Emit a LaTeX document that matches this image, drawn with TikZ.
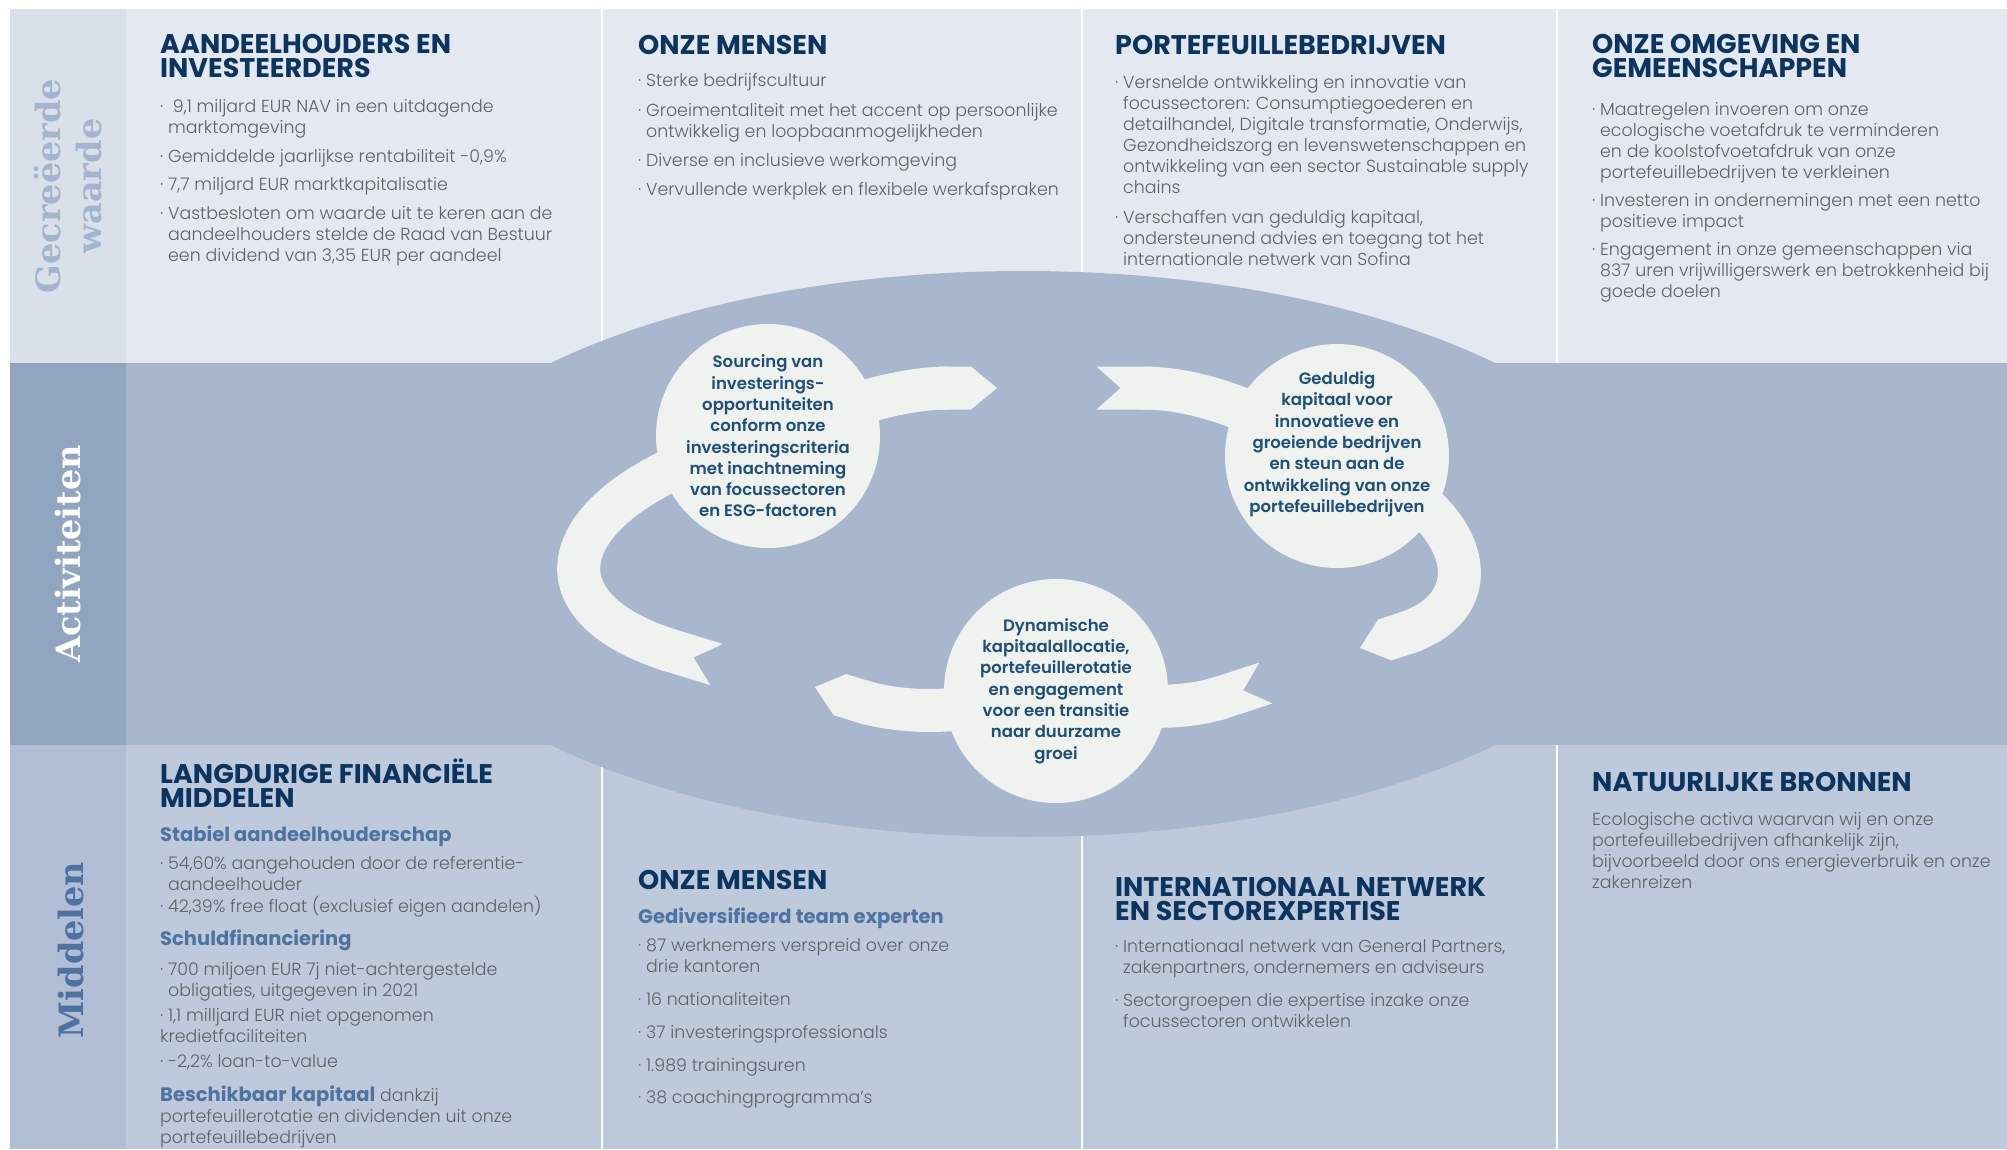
\documentclass[tikz,border=0pt]{standalone}
\usepackage{fontspec}
\setmainfont{Poppins}
\newfontfamily\lightfont{Poppins}[UprightFont=* Light,BoldFont=* Bold]
\newfontfamily\semifont{Poppins}[UprightFont=* SemiBold]
\newfontfamily\slabfont{DejaVu Serif}
\usetikzlibrary{arrows.meta,backgrounds}

\definecolor{bandtop}{HTML}{E4E8F1}
\definecolor{coltop}{HTML}{DAE0EA}
\definecolor{bandmid}{HTML}{A8B6CE}
\definecolor{colmid}{HTML}{91A5C0}
\definecolor{bandlow}{HTML}{BFC9DC}
\definecolor{collow}{HTML}{B1BED5}
\definecolor{paper}{HTML}{F0F2F0}
\definecolor{navy}{HTML}{0B3560}
\definecolor{subblue}{HTML}{4E73A0}
\definecolor{bodygrey}{HTML}{5E6166}
\definecolor{circtext}{HTML}{1D4F7A}
\definecolor{labellight}{HTML}{A3B4CE}
\definecolor{labelblue}{HTML}{4D71A0}

\newcommand\itm{·\ }
\newcommand\contline{\hphantom{·\ }}
\newcommand\subhd[1]{{\color{subblue}\bfseries\fontsize{19.5}{21}\selectfont #1}}

\begin{document}
\begin{tikzpicture}[x=1pt,y=1pt,
    % multi-line nodes sit on the baseline of their last line
    head/.style={anchor=base west,inner sep=0pt,align=left,text=navy,font=\fontsize{27}{24}\selectfont\bfseries},
    bodytext/.style={anchor=base west,inner sep=0pt,align=left,text=bodygrey,font=\lightfont\fontsize{17.4}{21}\selectfont},
    sidelabel/.style={rotate=90,inner sep=0pt,align=center,font=\slabfont\bfseries\fontsize{33.5}{41}\selectfont},
    stage/.style={circle,fill=paper,minimum size=224pt,inner sep=-20pt,align=center,text=circtext,font=\semifont\fontsize{16.5}{21.3}\selectfont},
    ribbonpath/.style={draw=paper,line width=43pt},
    pointed/.style={-{Triangle Cap[length=26pt]}},
    notched/.style={{Triangle Cap[reversed,length=24pt]}-},
  ]
\useasboundingbox (0,0) rectangle (2007,-1149);

% bands and columns
\begin{scope}[on background layer]
\fill[white] (0,0) rectangle (2007,-1149);
\fill[bandtop] (126,-9) rectangle (2007,-363);
\fill[coltop] (10,-9) rectangle (126,-363);
\fill[bandlow] (126,-745) rectangle (2007,-1149);
\fill[collow] (10,-745) rectangle (126,-1149);
\foreach \x in {602,1082,1557}
  \draw[white,line width=2pt] (\x,-9) -- (\x,-1149);
\fill[bandmid] (126,-363) rectangle (2007,-745);
\fill[colmid] (10,-363) rectangle (126,-745);
\fill[bandmid] (1023,-554) ellipse[x radius=640,y radius=283];
\end{scope}

\node (lblValue) [sidelabel,text=labellight] at (68,-186) {Gecreëerde\\waarde};
\node (lblActivities) [sidelabel,text=white] at (68,-554) {Activiteiten};
\node (lblMeans) [sidelabel,text=labelblue] at (71,-950) {Middelen};

% the three activities
\node (sourcing) [stage] at (768,-436) {Sourcing van\\investerings-\\opportuniteiten\\conform onze\\investeringscriteria\\met inachtneming\\van focussectoren\\en ESG-factoren};
\node (support) [stage] at (1337,-456) {Geduldig\\kapitaal voor\\innovatieve en\\groeiende bedrijven\\en steun aan de\\ontwikkeling van onze\\portefeuillebedrijven\\[6.7pt]\mbox{}};
\node (allocation) [stage] at (1056,-691) {Dynamische\\kapitaalallocatie,\\portefeuillerotatie\\en engagement\\voor een transitie\\naar duurzame\\groei};

\coordinate (aTip) at (997,-388);
\coordinate (bTail) at (1096.5,-388);
\coordinate (cTip) at (1360,-648);
\coordinate (dTail) at (1266,-683);
\coordinate (eTip) at (815,-687);
\coordinate (fTail) at (716.5,-664.5);

\begin{scope}[on background layer]
\draw[ribbonpath,pointed] (sourcing.center) to[out=22,in=180] (aTip);
\draw[ribbonpath,notched] (bTail) to[out=0,in=150] (support.center);
\draw[ribbonpath,pointed] (support.center) to[out=-20,in=18,looseness=1.9] (cTip);
\draw[ribbonpath,notched] (dTail) to[out=198,in=-15] (allocation.center);
\draw[ribbonpath,pointed] (allocation.center) to[out=195,in=-17] (eTip);
\draw[ribbonpath,notched] (fTail) to[out=163,in=194,looseness=2.31] (sourcing.center);
\end{scope}

% created value
\node (holdersHead) [head] at (160,-77) {AANDEELHOUDERS EN\\INVESTEERDERS};
\node (holdersText) [bodytext] at (160,-261) {\itm\ 9,1 miljard EUR NAV in een uitdagende\\
  \contline marktomgeving\\[8pt]
  \itm Gemiddelde jaarlijkse rentabiliteit -0,9\%\\[7pt]
  \itm 7,7 miljard EUR marktkapitalisatie\\[8pt]
  \itm Vastbesloten om waarde uit te keren aan de\\
  \contline aandeelhouders stelde de Raad van Bestuur\\
  \contline een dividend van 3,35 EUR per aandeel};

\node (teamHead) [head] at (638,-54) {ONZE MENSEN};
\node (teamText) [bodytext] at (638,-195) {\itm Sterke bedrijfscultuur\\[9pt]
  \itm Groeimentaliteit met het accent op persoonlijke\\
  \contline ontwikkelig en loopbaanmogelijkheden\\[8pt]
  \itm Diverse en inclusieve werkomgeving\\[8pt]
  \itm Vervullende werkplek en flexibele werkafspraken};

\node (portfolioHead) [head] at (1115,-54) {PORTEFEUILLEBEDRIJVEN};
\node (portfolioText) [bodytext] at (1115,-265) {\itm Versnelde ontwikkeling en innovatie van\\
  \contline focussectoren: Consumptiegoederen en\\
  \contline detailhandel, Digitale transformatie, Onderwijs,\\
  \contline Gezondheidszorg en levenswetenschappen en\\
  \contline ontwikkeling van een sector Sustainable supply\\
  \contline chains\\[9pt]
  \itm Verschaffen van geduldig kapitaal,\\
  \contline ondersteunend advies en toegang tot het\\
  \contline internationale netwerk van Sofina};

\node (societyHead) [head] at (1592,-77) {ONZE OMGEVING EN\\GEMEENSCHAPPEN};
\node (societyText) [bodytext] at (1592,-297) {\itm Maatregelen invoeren om onze\\
  \contline ecologische voetafdruk te verminderen\\
  \contline en de koolstofvoetafdruk van onze\\
  \contline portefeuillebedrijven te verkleinen\\[7pt]
  \itm Investeren in ondernemingen met een netto\\
  \contline positieve impact\\[7pt]
  \itm Engagement in onze gemeenschappen via\\
  \contline 837 uren vrijwilligerswerk en betrokkenheid bij\\
  \contline goede doelen};

% means
\node (financeHead) [head] at (160,-807) {LANGDURIGE FINANCIËLE\\MIDDELEN};
\node (financeText) [bodytext] at (160,-1143) {\subhd{Stabiel aandeelhouderschap}\\[7pt]
  \itm 54,60\% aangehouden door de referentie-\\
  \contline aandeelhouder\\[1pt]
  \itm 42,39\% free float (exclusief eigen aandelen)\\[12pt]
  \subhd{Schuldfinanciering}\\[9pt]
  \itm 700 miljoen EUR 7j niet-achtergestelde\\
  \contline obligaties, uitgegeven in 2021\\[4pt]
  \itm 1,1 milljard EUR niet opgenomen\\
  kredietfaciliteiten\\[4pt]
  \itm -2,2\% loan-to-value\\[13pt]
  \subhd{Beschikbaar kapitaal} dankzij\\
  portefeuillerotatie en dividenden uit onze\\
  portefeuillebedrijven};

\node (expertsHead) [head] at (638,-889) {ONZE MENSEN};
\node (expertsText) [bodytext] at (638,-1103) {\subhd{Gediversifieerd team experten}\\[7pt]
  \itm 87 werknemers verspreid over onze\\
  \contline drie kantoren\\[12pt]
  \itm 16 nationaliteiten\\[12pt]
  \itm 37 investeringsprofessionals\\[12pt]
  \itm 1.989 trainingsuren\\[11pt]
  \itm 38 coachingprogramma’s};

\node (networkHead) [head] at (1115,-920) {INTERNATIONAAL NETWERK\\EN SECTOREXPERTISE};
\node (networkText) [bodytext] at (1115,-1027) {\itm Internationaal netwerk van General Partners,\\
  \contline zakenpartners, ondernemers en adviseurs\\[12pt]
  \itm Sectorgroepen die expertise inzake onze\\
  \contline focussectoren ontwikkelen};

\node (natureHead) [head] at (1592,-791) {NATUURLIJKE BRONNEN};
\node (natureText) [bodytext] at (1592,-888) {Ecologische activa waarvan wij en onze\\
  portefeuillebedrijven afhankelijk zijn,\\
  bijvoorbeeld door ons energieverbruik en onze\\
  zakenreizen};
\end{tikzpicture}
\end{document}
